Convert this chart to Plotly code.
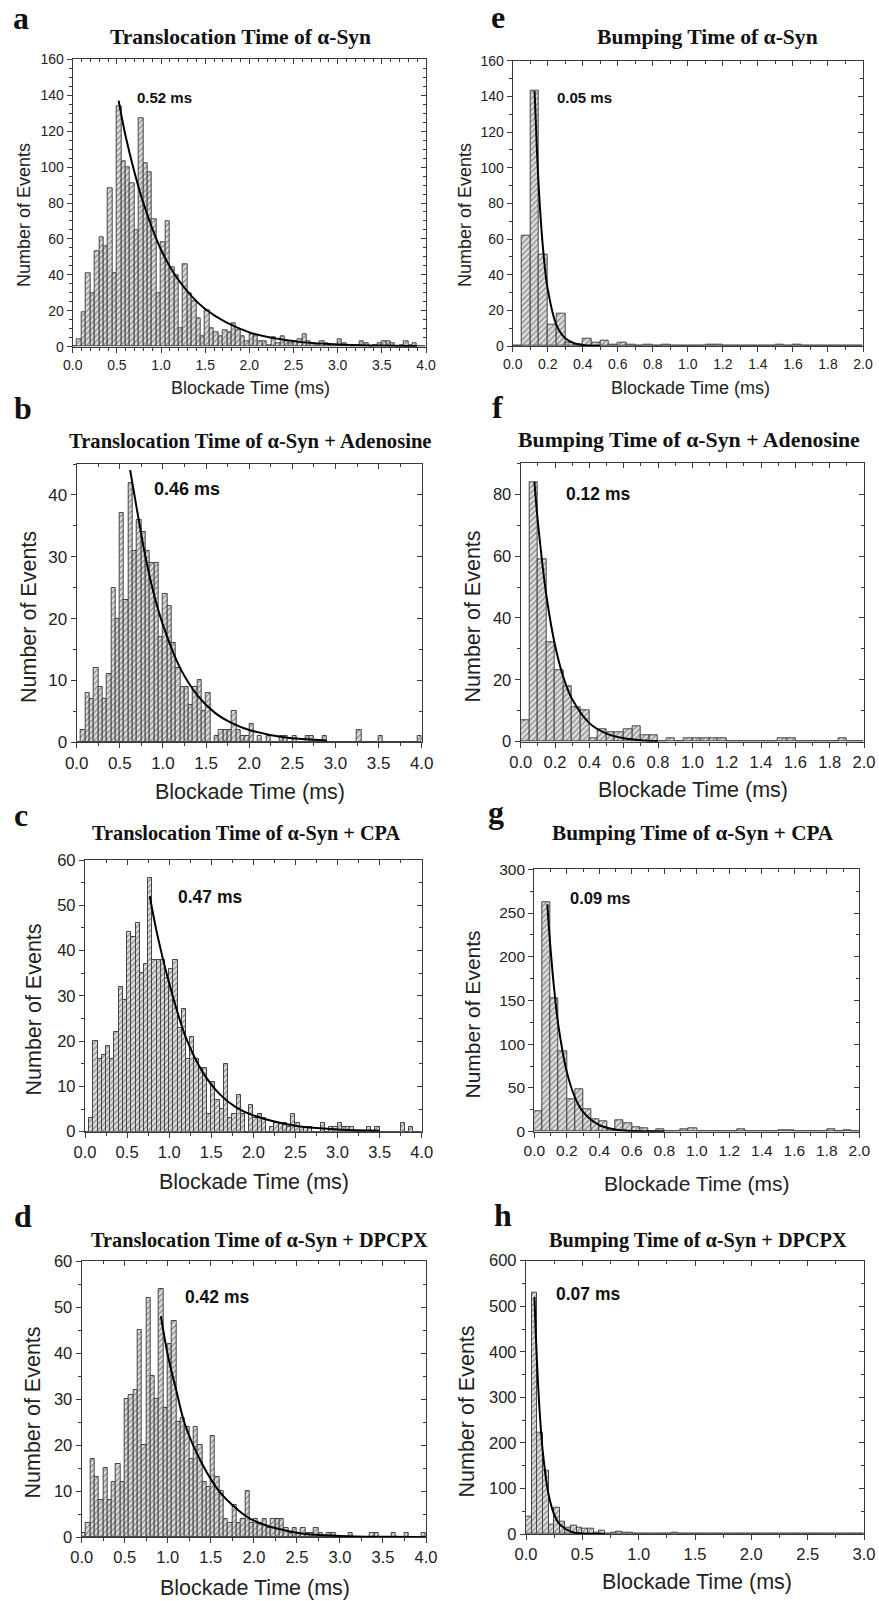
import plotly.graph_objects as go

W, H = 879, 1601
BIN = 0.05

# ---------------- data (counts per 0.05 ms bin, starting at 0 ms) ----------------
a_counts = [0, 4, 19, 41, 30, 53, 61, 56, 88, 41,
            134, 103, 100, 91, 65, 127, 102, 97, 71, 30,
            58, 70, 44, 40, 10, 46, 30, 25, 16, 6,
            20, 10, 8, 6, 9, 8, 13, 9, 6, 3,
            7, 6, 3, 3, 1, 5, 2, 6, 3, 2,
            3, 4, 7, 3, 2, 1, 3, 2, 1, 1,
            4, 2, 1, 0, 1, 3, 2, 0, 1, 2,
            3, 3, 2, 0, 1, 3, 1, 2, 0, 0]
b_counts = [0, 2, 8, 7, 12, 9, 7, 11, 25, 20,
            37, 23, 42, 31, 36, 34, 31, 29, 29, 17,
            24, 22, 16, 12, 9, 9, 6, 9, 10, 5,
            8, 0, 1, 2, 2, 2, 5, 2, 1, 1,
            3, 0, 1, 0, 1, 0, 0, 1, 1, 0,
            1, 0, 0, 1, 1, 0, 0, 1, 0, 0,
            0, 0, 0, 0, 0, 2, 0, 0, 0, 0,
            1, 0, 0, 0, 0, 0, 0, 0, 0, 1]
c_counts = [0, 3, 20, 16, 17, 19, 16, 22, 32, 29,
            44, 43, 46, 35, 37, 56, 38, 38, 38, 34,
            36, 38, 23, 27, 16, 21, 16, 14, 14, 4,
            11, 7, 5, 15, 3, 4, 8, 4, 0, 6,
            3, 4, 3, 0, 1, 2, 2, 2, 1, 4,
            2, 1, 1, 1, 0, 0, 2, 0, 1, 1,
            2, 1, 1, 1, 0, 0, 0, 1, 0, 1,
            0, 0, 0, 0, 0, 2, 0, 1, 0, 0]
d_counts = [1, 3, 17, 13, 8, 15, 8, 12, 16, 12,
            30, 31, 32, 45, 20, 52, 35, 30, 54, 28,
            42, 47, 25, 26, 24, 17, 24, 20, 12, 11,
            22, 13, 10, 4, 3, 7, 3, 4, 10, 3,
            4, 3, 4, 2, 4, 4, 4, 2, 1, 2,
            1, 2, 1, 1, 2, 1, 0, 1, 1, 0,
            0, 0, 1, 0, 0, 0, 0, 1, 1, 0,
            0, 0, 1, 0, 0, 1, 0, 0, 0, 1]
e_counts = [0, 62, 143, 51, 12, 18, 2, 1, 4, 2,
            3, 1, 2, 1, 0, 1, 0, 1, 0, 0,
            0, 0, 1, 1, 0, 0, 0, 0, 0, 0,
            1, 0, 1, 0, 0, 0, 0, 0, 0, 0]
f_counts = [7, 84, 59, 32, 23, 18, 11, 10, 1, 4,
            3, 3, 4, 5, 2, 2, 0, 1, 0, 1,
            1, 1, 1, 1, 0, 0, 0, 0, 0, 0,
            1, 1, 0, 0, 0, 0, 0, 1, 0, 0]
g_counts = [23, 262, 152, 92, 37, 49, 26, 14, 12, 3,
            13, 10, 5, 4, 1, 3, 1, 0, 3, 4,
            0, 1, 1, 1, 0, 3, 0, 1, 1, 0,
            2, 2, 0, 0, 0, 1, 3, 0, 2, 0]
h_counts = [38, 530, 222, 138, 20, 58, 26, 14, 18, 14,
            11, 11, 3, 7, 0, 3, 6, 3, 2, 0,
            1, 1, 1, 0, 0, 0, 3, 0, 1, 0,
            0, 0, 0, 0, 0, 0, 0, 0, 0, 0,
            0, 0, 1, 0, 1, 0, 1, 0, 0, 0,
            0, 0, 0, 0, 0, 1, 0, 0, 0, 0]

# fitted decay curves
a_fit_x = [0.52, 0.6, 0.7, 0.8, 1.0, 1.2, 1.5, 2.0, 2.5, 3.0, 3.5, 3.9]
a_fit_y = [137, 117, 97, 80, 54, 37, 21, 8, 3.1, 1.2, 0.6, 0.3]
b_fit_x = [0.62, 0.7, 0.8, 0.9, 1.0, 1.2, 1.4, 1.6, 1.8, 2.0, 2.4, 2.9]
b_fit_y = [44, 37.5, 29.8, 23.7, 19, 12, 7.6, 4.8, 3.1, 2.0, 0.8, 0.3]
c_fit_x = [0.77, 0.85, 1.0, 1.2, 1.4, 1.6, 1.8, 2.0, 2.5, 3.0, 3.5]
c_fit_y = [52, 44.3, 32.8, 20.7, 13.1, 8.3, 5.3, 3.6, 1.3, 0.5, 0.2]
d_fit_x = [0.92, 1.0, 1.1, 1.2, 1.4, 1.6, 1.8, 2.0, 2.5, 3.0, 3.6, 4.0]
d_fit_y = [48, 39.6, 31.8, 24.5, 15.9, 9.9, 6.2, 3.6, 1.0, 0.3, 0.1, 0.0]
e_fit_x = [0.125, 0.15, 0.175, 0.2, 0.25, 0.3, 0.35, 0.4, 0.45, 0.5]
e_fit_y = [143, 86.7, 52.6, 31.9, 11.7, 4.3, 1.6, 0.6, 0.2, 0.1]
f_fit_x = [0.08, 0.1, 0.15, 0.2, 0.25, 0.3, 0.4, 0.5, 0.6, 0.7, 0.8]
f_fit_y = [84, 71.1, 47.1, 31.2, 20.6, 13.7, 6.0, 2.6, 1.1, 0.5, 0.2]
g_fit_x = [0.08, 0.1, 0.125, 0.15, 0.2, 0.25, 0.3, 0.4, 0.5, 0.6, 0.7, 0.8]
g_fit_y = [260, 209, 158, 119, 68.4, 39.3, 22.6, 7.5, 2.5, 0.8, 0.3, 0.1]
h_fit_x = [0.075, 0.1, 0.125, 0.15, 0.2, 0.25, 0.3, 0.4, 0.5, 0.6, 0.7]
h_fit_y = [520, 364, 255, 178, 87.3, 42.8, 21, 5, 1.2, 0.3, 0.1]

titles = {
    'a': 'Translocation Time of α-Syn',
    'b': 'Translocation Time of α-Syn + Adenosine',
    'c': 'Translocation Time of α-Syn + CPA',
    'd': 'Translocation Time of α-Syn + DPCPX',
    'e': 'Bumping Time of α-Syn',
    'f': 'Bumping Time of α-Syn + Adenosine',
    'g': 'Bumping Time of α-Syn + CPA',
    'h': 'Bumping Time of α-Syn + DPCPX',
}
fit_labels = {'a': '0.52 ms', 'b': '0.46 ms', 'c': '0.47 ms', 'd': '0.42 ms',
              'e': '0.05 ms', 'f': '0.12 ms', 'g': '0.09 ms', 'h': '0.07 ms'}

# ---------------- layout specification (pixels) ----------------
P = {
    'a': dict(counts=a_counts, fx=a_fit_x, fy=a_fit_y, box=(72.7, 426, 59.3, 346.7), xr=4, yr=160,
              xd=0.5, xm=0.1, yd=20, ym=5, lab=(0.70, 138.5), tfs=14, afs=18, ttl=(240, 37, 21.5),
              let=(21, 18), ytp=(24, 215), xtp=(250, 388)),
    'b': dict(counts=b_counts, fx=b_fit_x, fy=b_fit_y, box=(76.7, 421.7, 464, 742.3), xr=4, yr=45,
              xd=0.5, xm=0.25, yd=10, ym=5, lab=(0.87, 41), tfs=17, afs=21.5, ttl=(250, 441.5, 20.6),
              let=(22.5, 408), ytp=(28.5, 617.5), xtp=(250, 792)),
    'c': dict(counts=c_counts, fx=c_fit_x, fy=c_fit_y, box=(85, 421.7, 860, 1131.7), xr=4, yr=60,
              xd=0.5, xm=0.25, yd=10, ym=5, lab=(1.08, 51.8), tfs=16.5, afs=21.5, ttl=(246, 833, 20.3),
              let=(21, 815), ytp=(33.5, 1010), xtp=(254, 1182)),
    'd': dict(counts=d_counts, fx=d_fit_x, fy=d_fit_y, box=(81.7, 426, 1261, 1537.3), xr=4, yr=60,
              xd=0.5, xm=0.25, yd=10, ym=5, lab=(1.18, 52.1), tfs=16.5, afs=21.5, ttl=(259, 1240, 20.3),
              let=(22.5, 1216), ytp=(32.5, 1413), xtp=(255, 1588)),
    'e': dict(counts=e_counts, fx=e_fit_x, fy=e_fit_y, box=(512.7, 863, 60.7, 346), xr=2, yr=160,
              xd=0.2, xm=0.1, yd=20, ym=10, lab=(0.24, 139.5), tfs=14, afs=18, ttl=(707.5, 37, 21.6),
              let=(498, 17), ytp=(465, 215), xtp=(690, 388)),
    'f': dict(counts=f_counts, fx=f_fit_x, fy=f_fit_y, box=(520.7, 864, 463.3, 741.7), xr=2, yr=90,
              xd=0.2, xm=0.1, yd=20, ym=10, lab=(0.25, 80), tfs=16.5, afs=21.5, ttl=(689, 440, 21.8),
              let=(497, 407), ytp=(472.5, 617), xtp=(693, 790)),
    'g': dict(counts=g_counts, fx=g_fit_x, fy=g_fit_y, box=(534.3, 859.3, 869.3, 1131.7), xr=2, yr=300,
              xd=0.2, xm=0.1, yd=50, ym=25, lab=(0.205, 266.8), tfs=15.5, afs=21, ttl=(693, 833, 21.2),
              let=(496, 812), ytp=(471.5, 1014), xtp=(697, 1183)),
    'h': dict(counts=h_counts, fx=h_fit_x, fy=h_fit_y, box=(526, 864, 1260.7, 1534), xr=3, yr=600,
              xd=0.5, xm=0.25, yd=100, ym=50, lab=(0.25, 528), tfs=16.5, afs=21.5, ttl=(697.5, 1240, 20.3),
              let=(503, 1215), ytp=(466.5, 1412), xtp=(697, 1582)),
}

SANS = 'Liberation Sans, Arial, sans-serif'
SERIF = 'Liberation Serif, Times New Roman, serif'
AXC = '#3a3a3a'

fig = go.Figure()
layout = dict(width=W, height=H, autosize=False,
              margin=dict(l=0, r=0, t=0, b=0, pad=0, autoexpand=False),
              paper_bgcolor='white', plot_bgcolor='white', showlegend=False,
              bargap=0, annotations=[])

def px(x):
    return x / W

def py(y):
    return 1 - y / H

for i, key in enumerate('abcdefgh'):
    p = P[key]
    n = i + 1
    m = i + 9
    xa, ya = f'x{n}', f'y{n}'
    x0, x1, y0, y1 = p['box']
    counts = p['counts']
    centers = [BIN * (k + 0.5) for k in range(len(counts))]
    fig.add_trace(go.Bar(
        x=centers, y=counts, width=BIN, xaxis=xa, yaxis=ya,
        marker=dict(color='#e2e2e2', line=dict(color='#444444', width=1),
                    pattern=dict(shape='/', fgcolor='#4a4a4a', bgcolor='#e2e2e2',
                                 size=4, solidity=0.4)),
        hoverinfo='skip'))
    fig.add_trace(go.Scatter(x=p['fx'], y=p['fy'], xaxis=xa, yaxis=ya, mode='lines',
                             line=dict(color='black', width=2, shape='spline', smoothing=1.0),
                             hoverinfo='skip'))
    # dummy traces for mirrored tick axes
    fig.add_trace(go.Scatter(x=[None], y=[None], xaxis=f'x{m}', yaxis=ya, mode='markers',
                             hoverinfo='skip'))
    fig.add_trace(go.Scatter(x=[None], y=[None], xaxis=xa, yaxis=f'y{m}', mode='markers',
                             hoverinfo='skip'))

    xdom = [px(x0), px(x1)]
    ydom = [py(y1), py(y0)]
    tf = dict(family=SANS, size=p['tfs'], color='#222')
    layout[f'xaxis{n}'] = dict(
        domain=xdom, anchor=ya, range=[0, p['xr']], tickmode='linear', tick0=0, dtick=p['xd'],
        tickformat='.1f', ticks='outside', ticklen=5, tickwidth=1.2, tickcolor=AXC,
        minor=dict(dtick=p['xm'], ticks='outside', ticklen=3, tickcolor=AXC, tickwidth=1),
        showline=True, linecolor=AXC, linewidth=1.3, mirror=True, showgrid=False, zeroline=False,
        tickfont=tf, fixedrange=True, automargin=False)
    layout[f'yaxis{n}'] = dict(
        domain=ydom, anchor=xa, range=[0, p['yr']], tickmode='linear', tick0=0, dtick=p['yd'],
        ticks='outside', ticklen=5, tickwidth=1.2, tickcolor=AXC,
        minor=dict(dtick=p['ym'], ticks='outside', ticklen=3, tickcolor=AXC, tickwidth=1),
        showline=True, linecolor=AXC, linewidth=1.3, mirror=True, showgrid=False, zeroline=False,
        tickfont=tf, fixedrange=True, automargin=False)
    layout[f'xaxis{m}'] = dict(
        overlaying=xa, side='top', anchor=ya, range=[0, p['xr']], tickmode='linear', tick0=0,
        dtick=p['xd'], ticks='inside', ticklen=5, tickwidth=1.2, tickcolor=AXC,
        minor=dict(dtick=p['xm'], ticks='inside', ticklen=3, tickcolor=AXC, tickwidth=1),
        showticklabels=False, showline=False, showgrid=False, zeroline=False, fixedrange=True,
        automargin=False)
    layout[f'yaxis{m}'] = dict(
        overlaying=ya, side='right', anchor=xa, range=[0, p['yr']], tickmode='linear', tick0=0,
        dtick=p['yd'], ticks='inside', ticklen=5, tickwidth=1.2, tickcolor=AXC,
        minor=dict(dtick=p['ym'], ticks='inside', ticklen=3, tickcolor=AXC, tickwidth=1),
        showticklabels=False, showline=False, showgrid=False, zeroline=False, fixedrange=True,
        automargin=False)

    ann = layout['annotations']
    ann.append(dict(xref=xa, yref=ya, x=p['lab'][0], y=p['lab'][1], text=f'<b>{fit_labels[key]}</b>',
                    showarrow=False, xanchor='left', yanchor='middle',
                    font=dict(family=SANS, size=p['tfs'] + 1, color='#111')))
    tx, ty, ts = p['ttl']
    ann.append(dict(xref='paper', yref='paper', x=px(tx), y=py(ty), text=f'<b>{titles[key]}</b>',
                    showarrow=False, xanchor='center', yanchor='middle',
                    font=dict(family=SERIF, size=ts, color='#111')))
    lx, ly = p['let']
    ann.append(dict(xref='paper', yref='paper', x=px(lx), y=py(ly), text=f'<b>{key}</b>',
                    showarrow=False, xanchor='center', yanchor='middle',
                    font=dict(family=SERIF, size=32, color='#111')))
    yx, yy = p['ytp']
    ann.append(dict(xref='paper', yref='paper', x=px(yx), y=py(yy), text='Number of Events',
                    showarrow=False, textangle=-90, xanchor='center', yanchor='middle',
                    font=dict(family=SANS, size=p['afs'], color='#222')))
    xx, xy = p['xtp']
    ann.append(dict(xref='paper', yref='paper', x=px(xx), y=py(xy), text='Blockade Time (ms)',
                    showarrow=False, xanchor='center', yanchor='middle',
                    font=dict(family=SANS, size=p['afs'], color='#222')))

fig.update_layout(**layout)
fig.write_html('out.html', config={'responsive': False, 'displayModeBar': False},
               post_script="document.body.style.margin='0';")
